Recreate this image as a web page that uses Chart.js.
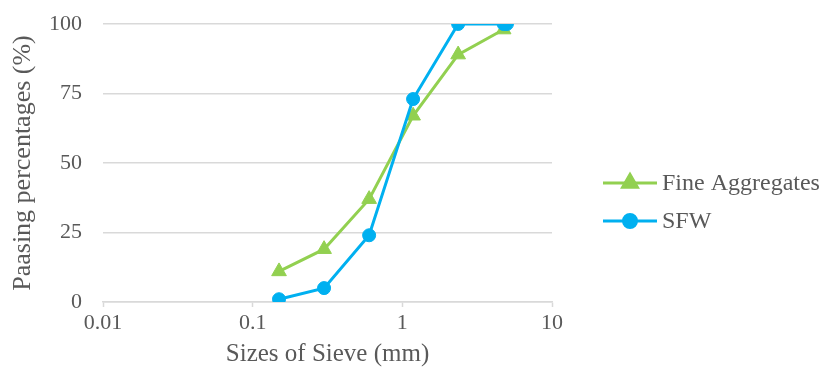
<!DOCTYPE html>
<html>
<head>
<meta charset="utf-8">
<script src="https://cdn.jsdelivr.net/npm/chart.js@4/dist/chart.umd.min.js"></script>
<style>
  html, body { margin: 0; padding: 0; background: #ffffff; }
  #wrap { width: 823px; height: 372px; position: relative; }
</style>
</head>
<body>
<div id="wrap"><canvas id="c"></canvas></div>
<script>
// ---- data ----
const sieveFA   = [0.15, 0.3, 0.6, 1.18, 2.36, 4.75];
const passFA    = [11, 19, 37, 67, 89, 98];
const sieveSFW  = [0.15, 0.3, 0.6, 1.18, 2.36, 4.75, 5];
const passSFW   = [1, 5, 24, 73, 100, 100, 100];
const xTickVals = [0.01, 0.1, 1, 10];
const yTickVals = [0, 25, 50, 75, 100];
const seriesNames = ['Fine Aggregates', 'SFW'];
const xTitle = 'Sizes of Sieve (mm)';
const yTitle = 'Paasing percentages (%)';

const GREEN = '#92D050';
const BLUE  = '#00B0F0';
const TEXT  = '#595959';
const GRID  = '#D9D9D9';
const FONT  = '"Liberation Serif", "Times New Roman", serif';

Chart.defaults.font.family = FONT;
Chart.defaults.color = TEXT;

const toPts = (xs, ys) => xs.map((x, i) => ({ x: x, y: ys[i] }));

const sideLegend = {
  id: 'sideLegend',
  afterDraw(chart) {
    const ctx = chart.ctx;
    const area = chart.chartArea;
    const x0 = area.right + 51;
    const rows = [183, 221];
    chart.data.datasets.forEach((ds, i) => {
      const y = rows[i];
      ctx.save();
      ctx.strokeStyle = ds.borderColor;
      ctx.lineWidth = ds.borderWidth;
      ctx.beginPath();
      ctx.moveTo(x0, y);
      ctx.lineTo(x0 + 54, y);
      ctx.stroke();
      ctx.fillStyle = ds.pointBackgroundColor;
      ctx.strokeStyle = ds.pointBorderColor;
      Chart.helpers.drawPoint(ctx, {
        pointStyle: ds.pointStyle,
        radius: ds.pointRadius,
        borderWidth: ds.pointBorderWidth,
        rotation: 0
      }, x0 + 27, y);
      ctx.fillStyle = TEXT;
      ctx.font = '24px ' + FONT;
      ctx.textBaseline = 'middle';
      ctx.textAlign = 'left';
      ctx.fillText(ds.label, x0 + 59, y + 1);
      ctx.restore();
    });
  }
};

new Chart(document.getElementById('c'), {
  type: 'line',
  data: {
    datasets: [
      {
        label: seriesNames[0],
        data: toPts(sieveFA, passFA),
        borderColor: GREEN,
        backgroundColor: GREEN,
        borderWidth: 3,
        pointStyle: 'triangle',
        pointRadius: 8.5,
        pointBackgroundColor: GREEN,
        pointBorderColor: GREEN,
        pointBorderWidth: 1,
        tension: 0,
        order: 1
      },
      {
        label: seriesNames[1],
        data: toPts(sieveSFW, passSFW),
        borderColor: BLUE,
        backgroundColor: BLUE,
        borderWidth: 3,
        pointStyle: 'circle',
        pointRadius: 6.5,
        pointBackgroundColor: BLUE,
        pointBorderColor: BLUE,
        pointBorderWidth: 1,
        tension: 0,
        order: 0
      }
    ]
  },
  options: {
    responsive: true,
    maintainAspectRatio: false,
    animation: false,
    devicePixelRatio: 1,
    layout: { padding: { top: 24, right: 271, left: 0, bottom: 0 } },
    plugins: {
      legend: { display: false },
      tooltip: { enabled: false }
    },
    scales: {
      x: {
        type: 'logarithmic',
        min: xTickVals[0],
        max: xTickVals[xTickVals.length - 1],
        afterBuildTicks: (s) => { s.ticks = xTickVals.map(v => ({ value: v })); },
        afterFit: (s) => { s.height = 70; },
        grid: {
          drawOnChartArea: false,
          drawTicks: true,
          tickLength: 5,
          tickColor: GRID,
          tickWidth: 1.5
        },
        border: { display: true, color: GRID, width: 1.5 },
        ticks: {
          padding: 3,
          color: TEXT,
          font: { size: 22 },
          maxRotation: 0,
          autoSkip: false,
          callback: (v) => String(v)
        },
        title: {
          display: true,
          text: xTitle,
          color: TEXT,
          font: { size: 25 },
          padding: { top: 0, bottom: 3 }
        }
      },
      y: {
        min: yTickVals[0],
        max: yTickVals[yTickVals.length - 1],
        afterBuildTicks: (s) => { s.ticks = yTickVals.map(v => ({ value: v })); },
        afterFit: (s) => { s.width = 103; s.paddingTop = 0; s.paddingBottom = 0; },
        grid: {
          color: GRID,
          lineWidth: 1.5,
          drawTicks: false
        },
        border: { display: false },
        ticks: {
          padding: 21,
          color: TEXT,
          font: { size: 22 }
        },
        title: {
          display: true,
          text: yTitle,
          color: TEXT,
          font: { size: 26 },
          padding: { top: 8, bottom: 0 }
        }
      }
    }
  },
  plugins: [sideLegend]
});
</script>
</body>
</html>
